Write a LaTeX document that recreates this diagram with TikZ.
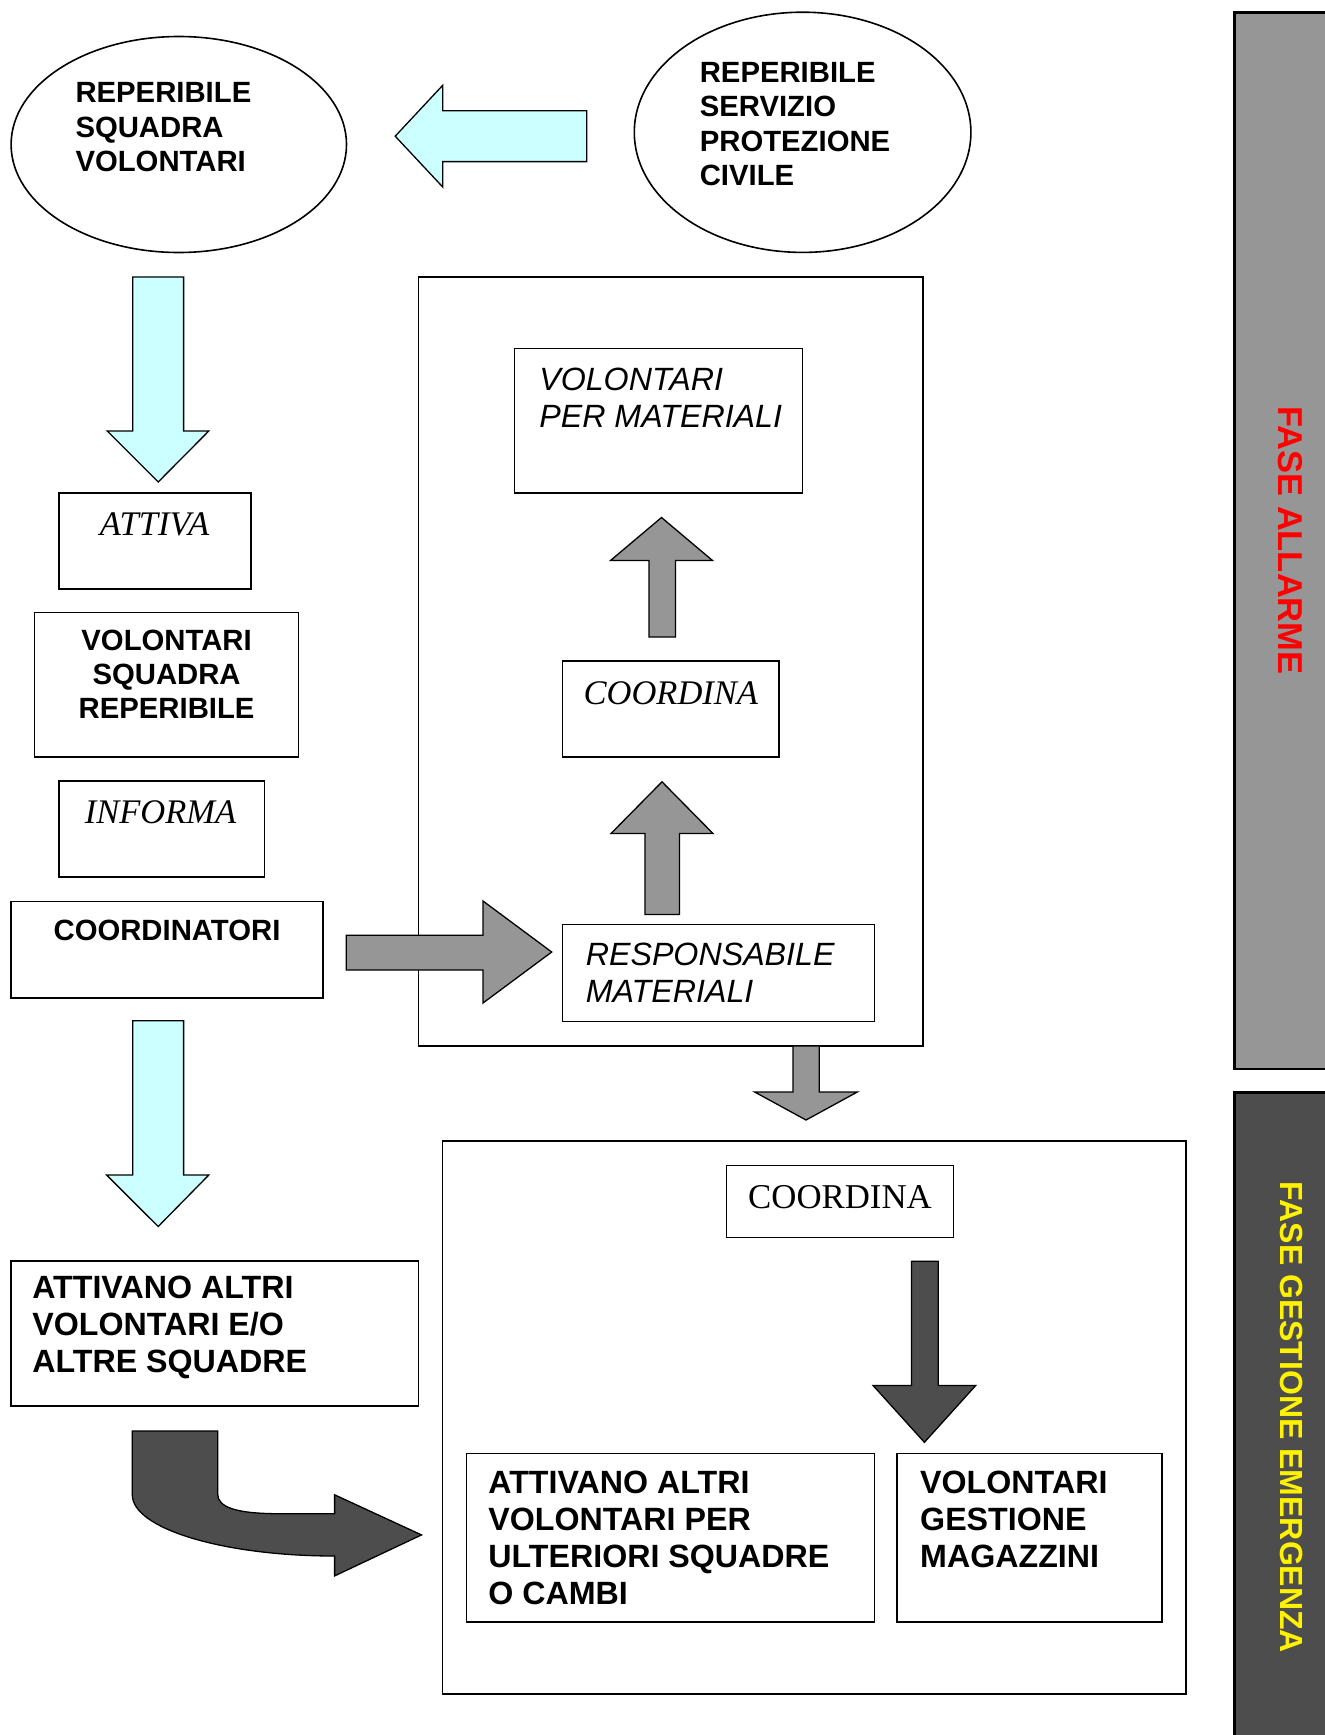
\documentclass[tikz,border=0pt]{standalone}
\usepackage{fontspec}
\setmainfont{Liberation Sans}
\newfontfamily\serifff{Liberation Serif}
\usetikzlibrary{shapes.geometric}
\definecolor{cyanfill}{HTML}{CCFFFF}
\definecolor{grayfill}{HTML}{969696}
\definecolor{darkfill}{HTML}{4D4D4D}
\begin{document}
\begin{tikzpicture}[x=1pt,y=-1pt,
  box/.style={draw=black, line width=1.6pt, rectangle, inner sep=0pt, outer sep=0pt, anchor=north west},
  oval/.style={draw=black, line width=1.6pt, ellipse, inner sep=0pt, outer sep=0pt},
  bsans/.style={font=\fontsize{29.3}{34.3}\selectfont\bfseries, inner sep=0pt},
  bsansL/.style={font=\fontsize{32.2}{37}\selectfont\bfseries, align=left, anchor=west, inner sep=0pt},
  isans/.style={font=\fontsize{32.2}{37}\selectfont\itshape, align=left, anchor=west, inner sep=0pt},
  serifit/.style={font=\fontsize{34.5}{40}\selectfont\serifff\itshape, inner sep=0pt},
  serifup/.style={font=\fontsize{34.8}{40}\selectfont\serifff, inner sep=0pt},
  blockarrow/.style={draw=black, line width=1.3pt, line join=miter},
  sidetext/.style={font=\bfseries, rotate=-90, inner sep=0pt},
]
\fill[white] (0,0) rectangle (1325,1735);
\useasboundingbox (0,0) rectangle (1325,1735);

% ellipses
\node[oval, minimum width=335.4pt, minimum height=216pt] (ovalL) at (178.8,144.5) {};
\node[bsans, align=left, anchor=west] (ovalLtxt) at (75.3,127.3) {REPERIBILE\\SQUADRA\\VOLONTARI};
\node[oval, minimum width=336.6pt, minimum height=240.2pt] (ovalR) at (802.6,132.3) {};
\node[bsans, align=left, anchor=west] (ovalRtxt) at (699.6,124) {REPERIBILE\\SERVIZIO\\PROTEZIONE\\CIVILE};

% left cyan arrow
\filldraw[blockarrow, fill=cyanfill] (586.7,110.7) -- (442.8,110.7) -- (442.8,85.2) -- (395.2,136.2) -- (442.8,187.1) -- (442.8,161.6) -- (586.7,161.6) -- cycle;

% cyan down arrows
\filldraw[blockarrow, fill=cyanfill] (132.8,276.9) -- (183.6,276.9) -- (183.6,431) -- (208.8,431) -- (158.2,482) -- (107.2,431) -- (132.8,431) -- cycle;
\filldraw[blockarrow, fill=cyanfill] (132.8,1020.7) -- (183.6,1020.7) -- (183.6,1175) -- (208.8,1175) -- (158.2,1226.5) -- (106.6,1175) -- (132.8,1175) -- cycle;

% left column boxes
\node[box, minimum width=192.2pt, minimum height=96.1pt] (attiva) at (58.7,492.8) {};
\node[serifit] (attivatxt) at (154.5,524.7) {ATTIVA};
\node[box, minimum width=264.2pt, minimum height=144.7pt] (vsr) at (34.4,612.5) {};
\node[bsans, align=center] (vsrtxt) at (166.6,674.2) {VOLONTARI\\SQUADRA\\REPERIBILE};
\node[box, minimum width=205.9pt, minimum height=96.2pt] (informa) at (58.7,780.7) {};
\node[serifit] (informatxt) at (160.5,812.5) {INFORMA};
\node[box, minimum width=311.9pt, minimum height=96.4pt] (coordinatori) at (11,901.3) {};
\node[bsans] (coordinatoritxt) at (167,930) {COORDINATORI};
\node[box, minimum width=407.3pt, minimum height=145pt] (altri) at (11.1,1260.9) {};
\node[bsansL] (altritxt) at (32.1,1327.8) {ATTIVANO ALTRI\\VOLONTARI E/O\\ALTRE SQUADRE};

% frame 1
\node[box, minimum width=504.8pt, minimum height=769pt] (frameA) at (418.4,276.8) {};
\node[box, minimum width=288.3pt, minimum height=144.5pt] (vpm) at (514.3,348.5) {};
\node[isans] (vpmtxt) at (539.1,397.4) {VOLONTARI\\PER MATERIALI};
\node[box, minimum width=216.6pt, minimum height=96.2pt] (coordA) at (562.3,660.9) {};
\node[serifit] (coordAtxt) at (670.8,693) {COORDINA};
\node[box, minimum width=312.2pt, minimum height=96.8pt] (resp) at (562.4,924.5) {};
\node[isans] (resptxt) at (585.6,972.5) {RESPONSABILE\\MATERIALI};

% gray arrows
\filldraw[blockarrow, fill=grayfill] (346.3,935.3) -- (483,935.3) -- (483,901) -- (551.7,952) -- (483,1003) -- (483,970) -- (346.3,970) -- cycle;
\filldraw[blockarrow, fill=grayfill] (649,637) -- (649,560.5) -- (610.5,560.5) -- (661.5,517.5) -- (712.5,560.5) -- (675.5,560.5) -- (675.5,637) -- cycle;
\filldraw[blockarrow, fill=grayfill] (645,914.5) -- (645,833.5) -- (611,833.5) -- (662,781.8) -- (713,833.5) -- (679.5,833.5) -- (679.5,914.5) -- cycle;
\filldraw[blockarrow, fill=grayfill] (793,1046) -- (819.3,1046) -- (819.3,1092) -- (857.3,1092) -- (806,1120) -- (754.7,1092) -- (793,1092) -- cycle;

% frame 2
\node[box, minimum width=743.5pt, minimum height=552.8pt] (frameB) at (442.5,1141) {};
\node[box, minimum width=227.2pt, minimum height=72.1pt] (coordB) at (726.4,1165.5) {};
\node[serifup] (coordBtxt) at (840,1196.7) {COORDINA};
\node[box, minimum width=408.2pt, minimum height=168.3pt] (ulteriori) at (466.3,1453.5) {};
\node[bsansL] (ulterioritxt) at (488.2,1538.2) {ATTIVANO ALTRI\\VOLONTARI PER\\ULTERIORI SQUADRE\\O CAMBI};
\node[box, minimum width=264.8pt, minimum height=168.3pt] (magazzini) at (897.2,1453.5) {};
\node[bsansL] (magazzinitxt) at (920,1519.5) {VOLONTARI\\GESTIONE\\MAGAZZINI};

% dark arrows
\filldraw[blockarrow, fill=darkfill] (911.5,1261.2) -- (938.3,1261.2) -- (938.3,1385.4) -- (975.8,1385.4) -- (924.4,1442.3) -- (873,1385.4) -- (911.5,1385.4) -- cycle;
\filldraw[blockarrow, fill=darkfill] (132.3,1431) -- (217.7,1431) -- (217.7,1494)
  .. controls (217.7,1507) and (235,1513.7) .. (280,1513.7) -- (334.6,1513.7)
  -- (334.6,1494.8) -- (421.5,1534.9) -- (334.6,1575.9) -- (334.6,1556)
  .. controls (223,1556) and (132.3,1528.5) .. (132.3,1494.8) -- cycle;

% side bars
\fill[grayfill] (1234.3,12.5) rectangle (1325,1069);
\draw[line width=2.5pt] (1326,12.5) -- (1234.3,12.5) -- (1234.3,1069) -- (1326,1069);
\node[sidetext, text=red, font=\fontsize{34.5}{40}\selectfont\bfseries] (fase1) at (1290.7,540.5) {FASE ALLARME};
\fill[darkfill] (1234.3,1092.5) rectangle (1325,1736);
\draw[line width=2.5pt] (1326,1092.5) -- (1234.3,1092.5) -- (1234.3,1736);
\node[sidetext, text=yellow, font=\fontsize{32}{38}\selectfont\bfseries] (fase2) at (1291.7,1417.5) {FASE GESTIONE EMERGENZA};
\end{tikzpicture}
\end{document}
